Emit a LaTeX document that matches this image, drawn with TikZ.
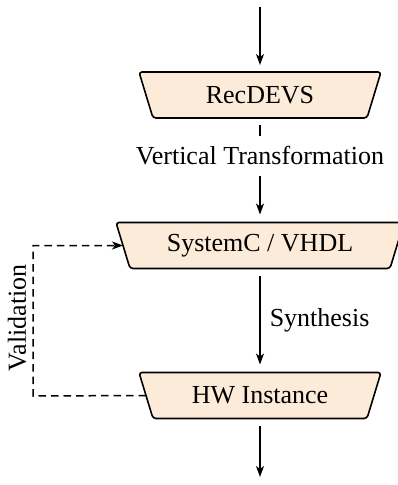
\documentclass[tikz,border=0pt]{standalone}
\usepackage{fontspec}
\setmainfont{Liberation Serif}
\usetikzlibrary{arrows.meta,backgrounds}
\definecolor{peach}{RGB}{253,235,217}
\begin{document}
\begin{tikzpicture}[x=1pt,y=-1pt,
  font=\fontsize{26}{31}\selectfont,
  >={Stealth[length=11pt,width=8pt,inset=3pt]},
  line width=1.5pt,
  stagebox/.style={rectangle, minimum height=46pt, inner sep=0pt, outer sep=0pt},
  stageshape/.style={draw, fill=peach, line width=1.6pt, rounded corners=3pt},
  flow/.style={->},
  valid/.style={dash pattern=on 7.5pt off 5pt},
  lbl/.style={inner sep=0pt}]
\useasboundingbox (0,0) rectangle (397,485);
\node[stagebox, minimum width=242pt] (rec) at (260,95) {RecDEVS};
\node[stagebox, minimum width=288pt] (sys) at (260,245.5) {SystemC / VHDL};
\node[stagebox, minimum width=242pt] (hw) at (260,395.5) {HW Instance};
\begin{scope}[on background layer]
\foreach \n in {rec,sys,hw}
  \draw[stageshape] (\n.north west) -- (\n.north east) -- ([xshift=-14pt]\n.south east)
    -- ([xshift=14pt]\n.south west) -- cycle;
\end{scope}
\node[inner xsep=0pt, inner ysep=10pt, text height=17.7pt, text depth=0pt] (vt) at (260,156) {Vertical Transformation};
\coordinate (in) at (260,7);
\coordinate (out) at (260,477);
\coordinate (corner) at (33,396);
\coordinate (sysL) at ([xshift=7pt]sys.west);
\coordinate (hwL) at ([xshift=7pt]hw.west);
\draw[flow, shorten >=7pt] (in) -- (rec);
\draw[shorten <=7pt] (rec) -- (vt);
\draw[flow, shorten >=8pt] (vt) -- (sys);
\draw[flow, shorten <=7pt, shorten >=8pt] (sys) -- node[lbl, right=9pt] (syn) {Synthesis} (hw);
\draw[flow, shorten <=7pt] (hw) -- (out);
\draw[valid, ->] (hwL) -- (corner) |- (sysL);
\node[lbl, rotate=90] (val) at (17,318) {Validation};
\end{tikzpicture}
\end{document}
